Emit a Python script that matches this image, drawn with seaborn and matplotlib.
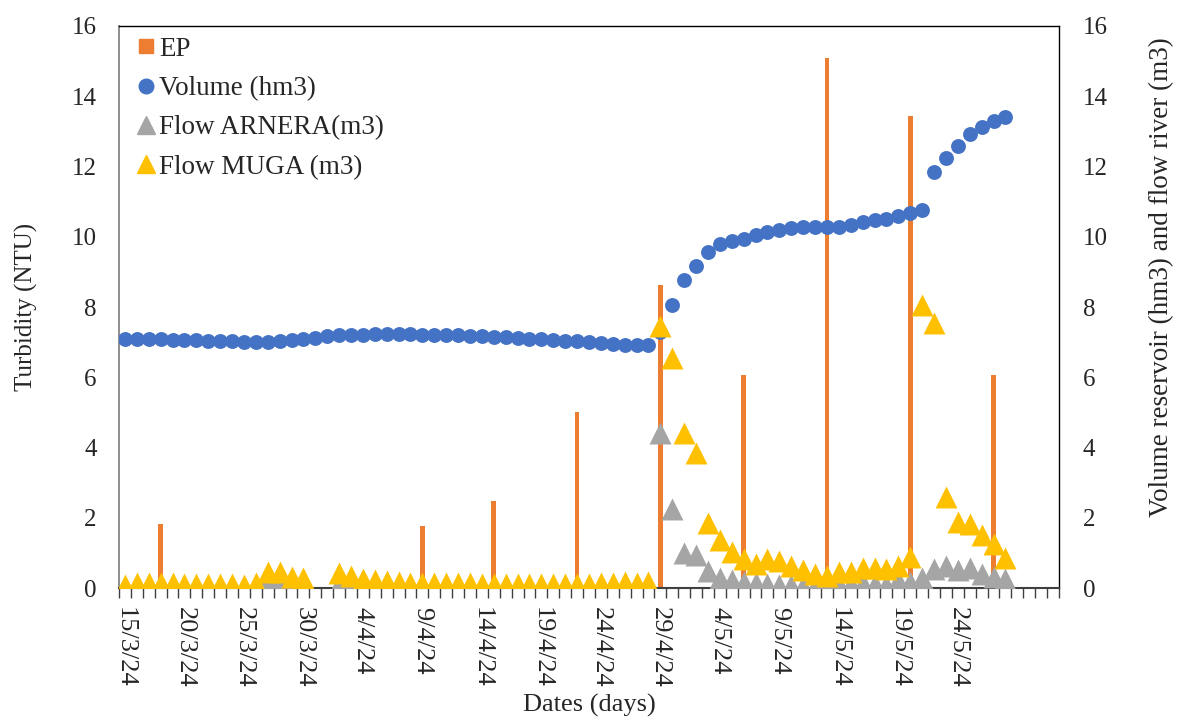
import numpy as np
import pandas as pd
import seaborn as sns
import matplotlib.pyplot as plt
from matplotlib.lines import Line2D

nan = np.nan

# one category per day, 15/3/24 .. 1/6/24
days = pd.date_range("2024-03-15", periods=79, freq="D")
day_labels = [f"{d.day}/{d.month}/{d:%y}" for d in days]

tick_labels = ["15/3/24", "20/3/24", "25/3/24", "30/3/24", "4/4/24", "9/4/24",
               "14/4/24", "19/4/24", "24/4/24", "29/4/24", "4/5/24", "9/5/24",
               "14/5/24", "19/5/24", "24/5/24"]

# turbidity (NTU), left axis
ep_dates = ["18/3/24", "9/4/24", "15/4/24", "22/4/24", "29/4/24",
            "6/5/24", "13/5/24", "20/5/24", "27/5/24"]
ep_values = [1.83, 1.78, 2.49, 5.01, 8.63, 6.07, 15.08, 13.45, 6.07]

# right axis series
volume = [7.09, 7.08, 7.08, 7.08, 7.07, 7.06, 7.05, 7.04, 7.03, 7.02,
          7.01, 7.00, 7.01, 7.04, 7.07, 7.10, 7.13, 7.17, 7.19, 7.20,
          7.21, 7.22, 7.22, 7.22, 7.22, 7.21, 7.21, 7.20, 7.19, 7.18,
          7.17, 7.16, 7.14, 7.12, 7.10, 7.08, 7.06, 7.04, 7.02, 7.00,
          6.97, 6.94, 6.92, 6.91, 6.91, 7.28, 8.06, 8.77, 9.18, 9.58,
          9.80, 9.88, 9.95, 10.06, 10.13, 10.20, 10.24, 10.27, 10.27, 10.29,
          10.29, 10.34, 10.42, 10.48, 10.51, 10.58, 10.67, 10.77, 11.85, 12.25,
          12.59, 12.93, 13.13, 13.30, 13.42, nan, nan, nan, nan]

arnera = [0.02, 0.02, 0.02, 0.02, 0.02, 0.02, 0.02, 0.02, 0.02, 0.02,
          0.02, nan, 0.20, 0.15, 0.06, 0.05, nan, nan, 0.12, 0.08,
          0.05, 0.02, 0.02, 0.02, 0.02, 0.02, 0.02, 0.02, 0.02, 0.02,
          0.02, 0.02, 0.02, 0.02, 0.02, 0.02, 0.02, 0.02, 0.02, 0.02,
          0.02, 0.02, nan, nan, nan, 4.40, 2.25, 1.01, 0.94, 0.48,
          0.28, 0.22, 0.17, 0.15, 0.11, 0.10, 0.10, 0.06, 0.06, 0.08,
          0.12, 0.12, 0.14, 0.12, 0.10, 0.23, 0.18, 0.28, 0.55, 0.64,
          0.52, 0.58, 0.40, 0.30, 0.26, nan, nan, nan, nan]

muga = [0.10, 0.14, 0.14, 0.13, 0.13, 0.12, 0.12, 0.12, 0.11, 0.11,
        0.10, 0.14, 0.46, 0.45, 0.30, 0.28, nan, nan, 0.42, 0.34,
        0.26, 0.22, 0.19, 0.16, 0.13, 0.13, 0.13, 0.13, 0.13, 0.13,
        0.12, 0.12, 0.12, 0.12, 0.12, 0.12, 0.12, 0.12, 0.12, 0.12,
        0.13, 0.14, 0.16, 0.15, 0.17, 7.45, 6.55, 4.40, 3.83, 1.86,
        1.36, 1.04, 0.84, 0.69, 0.82, 0.77, 0.62, 0.50, 0.40, 0.35,
        0.45, 0.47, 0.58, 0.58, 0.54, 0.63, 0.88, 8.06, 7.55, 2.59,
        1.88, 1.81, 1.50, 1.25, 0.85, nan, nan, nan, nan]

ORANGE = "#ED7D31"
BLUE = "#4472C4"
GRAY = "#A5A5A5"
YELLOW = "#FFC000"

df = pd.DataFrame({"day": np.arange(len(days)), "label": day_labels,
                   "Volume": volume, "ARNERA": arnera, "MUGA": muga})
df["EP"] = df["label"].map(dict(zip(ep_dates, ep_values))).fillna(0)

sns.set_style("white")
plt.rcParams["font.family"] = ["Liberation Serif", "DejaVu Serif"]

fig = plt.figure(figsize=(11.77, 7.24), dpi=100)
ax = fig.add_axes([0.1011, 0.1878, 0.7986, 0.7763])

sns.barplot(data=df, x="day", y="EP", color=ORANGE, saturation=1,
            width=0.4, linewidth=0, errorbar=None, ax=ax)

ax2 = ax.twinx()
sns.scatterplot(data=df, x="day", y="Volume", color=BLUE, marker="o",
                s=115, linewidth=0, ax=ax2)
sns.scatterplot(data=df, x="day", y="ARNERA", color=GRAY, marker="^",
                s=250, linewidth=0, ax=ax2)
sns.scatterplot(data=df, x="day", y="MUGA", color=YELLOW, marker="^",
                s=250, linewidth=0, ax=ax2)

for a in (ax, ax2):
    a.set_xlim(-0.5, 78.5)
    a.set_ylim(0, 16)
    a.set_yticks(range(0, 17, 2))
    a.tick_params(axis="y", length=0, labelsize=18)

ax.tick_params(axis="y", pad=16)
ax2.tick_params(axis="y", pad=17)

ax.set_xticks(range(0, 75, 5))
ax.set_xticklabels(tick_labels, rotation=270, fontsize=19)
ax.set_xticks(np.arange(-0.5, 79, 1), minor=True)
ax.tick_params(axis="x", which="major", length=0, pad=14)
ax.tick_params(axis="x", which="minor", length=7, width=1, color="#404040",
               bottom=True)

ax.spines["left"].set_color("#868686")
ax.spines["left"].set_linewidth(1.3)
ax.spines["bottom"].set_color("#404040")
ax.spines["bottom"].set_linewidth(1.5)
for s in ("top", "right"):
    ax.spines[s].set_color("black")
    ax.spines[s].set_linewidth(1)
for s in ax2.spines.values():
    s.set_visible(False)

ax.set_xlabel("Dates (days)", fontsize=19, labelpad=4)
ax.set_ylabel("Turbidity (NTU)", fontsize=18, labelpad=24)
ax2.set_ylabel("Volume reservoir (hm3) and flow river (m3)", fontsize=19.5,
               rotation=90, labelpad=26)
ax2.yaxis.set_label_coords(1.096, 0.553)

handles = [
    Line2D([], [], ls="none", marker="s", ms=10, color=ORANGE),
    Line2D([], [], ls="none", marker="o", ms=10.5, color=BLUE),
    Line2D([], [], ls="none", marker="^", ms=12.5, color=GRAY),
    Line2D([], [], ls="none", marker="^", ms=12.5, color=YELLOW),
]
labels = ["EP", "Volume (hm3)", "Flow ARNERA(m3)", "Flow MUGA (m3)"]
ax2.legend(handles, labels, loc="upper left", bbox_to_anchor=(0.0, 1.01),
           frameon=False, fontsize=19.5, handlelength=0.8, handletextpad=0.08,
           labelspacing=0.53, borderaxespad=0.2)

fig.savefig("out.png", dpi=100)
